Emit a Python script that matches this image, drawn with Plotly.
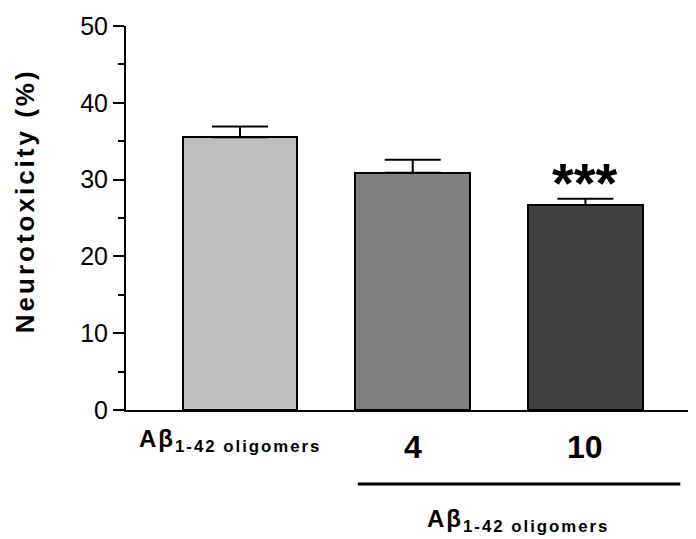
import plotly.graph_objects as go

groups = ["Aβ<sub>1-42 oligomers</sub>", "4", "10"]
values = [35.5, 30.9, 26.7]
errors = [1.4, 1.7, 0.8]
colors = ["#bfbfbf", "#808080", "#404040"]
sig = ["", "", "***"]
y_ticks = [0, 10, 20, 30, 40, 50]
group_label = "Aβ<sub>1-42 oligomers</sub>"
y_title = "Neurotoxicity (%)"

xs = list(range(len(values)))
font = "Arial, Liberation Sans, sans-serif"


def spaced(t, px):
    return '<span style="letter-spacing:%dpx">%s</span>' % (px, t)


fig = go.Figure()
fig.add_trace(go.Bar(
    x=xs, y=values, width=0.665,
    marker=dict(color=colors, line=dict(color="black", width=2)),
    error_y=dict(type="data", symmetric=False, array=errors,
                 arrayminus=[0] * len(errors), color="black",
                 thickness=2, width=28),
    showlegend=False,
))

# significance marks
for x, v, e, s in zip(xs, values, errors, sig):
    if s:
        fig.add_annotation(x=x, y=v + e, yref="y", yshift=16,
                           text="<b>" + s + "</b>",
                           showarrow=False, yanchor="middle",
                           font=dict(size=56, color="black", family=font))

# category labels
fig.add_annotation(x=-0.595, xanchor="left", y=-0.126, yref="paper",
                   yanchor="bottom",
                   text="<b>" + spaced(groups[0], 2) + "</b>", showarrow=False,
                   font=dict(size=24, color="black", family=font))
for x, g in zip(xs[1:], groups[1:]):
    fig.add_annotation(x=x, y=-0.149, yref="paper", yanchor="bottom",
                       text="<b>" + g + "</b>", showarrow=False,
                       font=dict(size=32, color="black", family=font))

# group line and label
fig.add_shape(type="line", x0=0.682, x1=2.549, xref="x", y0=-0.193, y1=-0.193,
              yref="paper", line=dict(color="black", width=3))
fig.add_annotation(x=1.607, y=-0.334, yref="paper", yanchor="bottom",
                   text="<b>" + spaced(group_label, 2) + "</b>", showarrow=False,
                   font=dict(size=24, color="black", family=font))

# y axis title
fig.add_annotation(x=-0.177, xref="paper", xanchor="center",
                   y=0.544, yref="paper", yanchor="middle",
                   text="<b>" + spaced(y_title, 3) + "</b>", textangle=-90,
                   showarrow=False,
                   font=dict(size=26, color="black", family=font))

# the page body adds an 8px margin, so the figure is 8px smaller
fig.update_layout(
    width=688, height=531,
    margin=dict(l=118, r=0, t=18, b=129),
    plot_bgcolor="white", paper_bgcolor="white",
    font=dict(family=font, color="black"),
    bargap=0,
)
fig.update_xaxes(range=[-0.66, 2.64], showticklabels=False, ticks="",
                 showgrid=False, zeroline=False, showline=True,
                 linecolor="black", linewidth=2)
fig.update_yaxes(range=[0, 50], tickvals=y_ticks, ticks="outside", ticklen=11,
                 tickwidth=2, tickcolor="black", showgrid=False, zeroline=False,
                 showline=True, linecolor="black", linewidth=2,
                 tickfont=dict(size=25, color="black", family=font),
                 minor=dict(tickvals=[5, 15, 25, 35, 45], ticks="outside",
                            ticklen=6, tickwidth=2, tickcolor="black"))

fig.write_html("out.html")
